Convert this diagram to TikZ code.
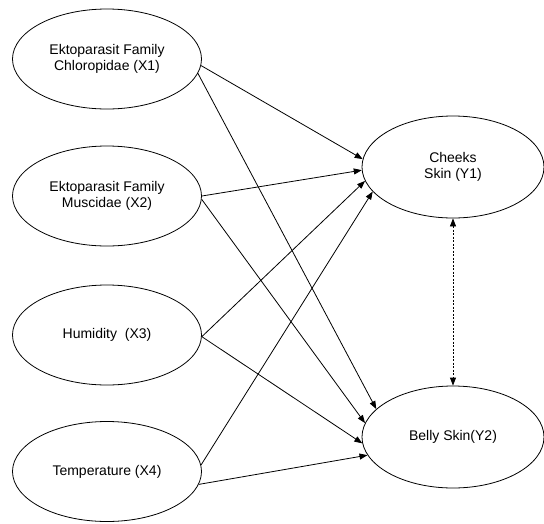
\documentclass[tikz,border=0pt]{standalone}
\usepackage{fontspec}
\setmainfont{Liberation Sans}
\usetikzlibrary{shapes.geometric,arrows.meta}
\begin{document}
\begin{tikzpicture}[x=1pt,y=1pt,
  var/.style={draw,ellipse,line width=0.8pt,inner sep=0pt,align=center,
    font=\fontsize{14}{16.5}\selectfont},
  xvar/.style={var,minimum width=189pt,minimum height=100pt},
  yvar/.style={var,minimum width=182pt,minimum height=102pt},
  path/.style={line width=0.8pt,-{Triangle[length=8pt,width=6pt]}},
  cov/.style={line width=0.8pt,dash pattern=on 2pt off 1.5pt,
    {Triangle[length=8pt,width=6pt]}-{Triangle[length=8pt,width=6pt]}}]
\useasboundingbox (0,0) rectangle (544,-523);
\node[xvar] (X1) at (107,-59) {Ektoparasit Family\\Chloropidae (X1)};
\node[xvar] (X2) at (107,-196) {Ektoparasit Family\\Muscidae (X2)};
\node[xvar] (X3) at (107,-335) {Humidity\ \ (X3)};
\node[xvar] (X4) at (107,-471.5) {Temperature (X4)};
\node[yvar] (Y1) at (453,-167) {Cheeks\\Skin (Y1)};
\node[yvar] (Y2) at (453,-437) {Belly Skin(Y2)};
\draw[path] (X1.-4.8) -- (Y1.175.6);
\draw[path] (X1.-9.9) -- (Y2.160.3);
\draw[path] (X2.0.6) -- (Y1.182.5);
\draw[path] (X2.-2.4) -- (Y2.171.7);
\draw[path] (X3.-1.2) -- (Y1.189.7);
\draw[path] (X3.-1.2) -- (Y2.184.4);
\draw[path] (X4.4.5) -- (Y1.197.6);
\draw[path] (X4.-8.3) -- (Y2.192.5);
\draw[cov] (Y1.south) -- (Y2.north);
\end{tikzpicture}
\end{document}
